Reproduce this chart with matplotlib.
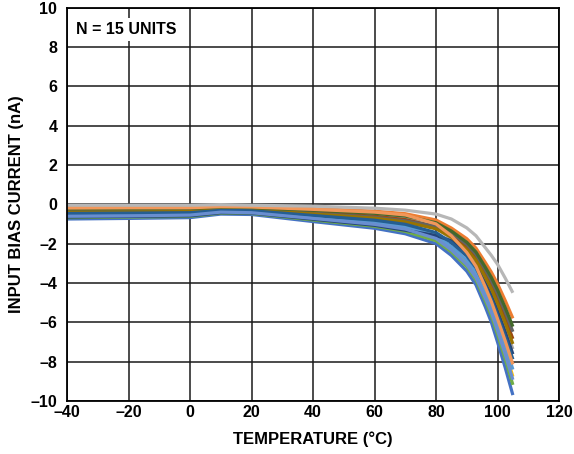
import matplotlib
matplotlib.use("Agg")
import matplotlib.pyplot as plt

plt.rcParams['font.family'] = ['Liberation Sans', 'DejaVu Sans']

# temperatures (°C)
temp = [-40, -20, 0, 10, 20, 40, 60, 70, 80, 85, 90, 93, 96, 98, 100, 102.5, 105]

# input bias current (nA), one list per unit, in Excel series order
u01 = [-0.75, -0.72, -0.68, -0.50, -0.52, -0.88, -1.22, -1.50, -2.00, -2.60, -3.40, -4.10, -5.20, -6.00, -7.00, -8.30, -9.70]
u02 = [-0.16, -0.15, -0.14, -0.09, -0.12, -0.22, -0.35, -0.48, -0.80, -1.21, -1.75, -2.23, -2.95, -3.45, -4.04, -4.89, -5.80]
u03 = [-0.30, -0.28, -0.27, -0.19, -0.21, -0.37, -0.56, -0.72, -1.18, -1.77, -2.41, -2.98, -3.85, -4.47, -5.22, -6.25, -7.36]
u04 = [-0.44, -0.42, -0.40, -0.28, -0.31, -0.53, -0.76, -0.96, -1.53, -2.27, -3.00, -3.65, -4.66, -5.39, -6.29, -7.48, -8.76]
u05 = [-0.54, -0.52, -0.49, -0.36, -0.38, -0.65, -0.91, -1.14, -1.59, -2.14, -2.85, -3.48, -4.45, -5.15, -6.01, -7.16, -8.40]
u06 = [-0.68, -0.65, -0.62, -0.45, -0.47, -0.80, -1.12, -1.38, -1.85, -2.42, -3.18, -3.85, -4.90, -5.66, -6.61, -7.85, -9.18]
u07 = [-0.65, -0.62, -0.59, -0.43, -0.45, -0.76, -1.07, -1.32, -1.59, -1.86, -2.52, -3.10, -4.00, -4.64, -5.42, -6.48, -7.62]
u08 = [-0.33, -0.32, -0.30, -0.21, -0.24, -0.41, -0.61, -0.78, -1.14, -1.58, -2.19, -2.73, -3.55, -4.13, -4.83, -5.80, -6.84]
u09 = [-0.37, -0.35, -0.33, -0.24, -0.26, -0.45, -0.66, -0.84, -1.12, -1.45, -2.04, -2.55, -3.34, -3.89, -4.55, -5.48, -6.48]
u10 = [-0.40, -0.39, -0.37, -0.26, -0.29, -0.49, -0.71, -0.90, -1.25, -1.68, -2.30, -2.85, -3.70, -4.30, -5.03, -6.03, -7.10]
u11 = [-0.47, -0.45, -0.43, -0.31, -0.33, -0.57, -0.81, -1.02, -1.44, -1.95, -2.63, -3.23, -4.15, -4.81, -5.62, -6.71, -7.88]
u12 = [-0.23, -0.22, -0.21, -0.14, -0.17, -0.30, -0.46, -0.60, -0.94, -1.36, -1.93, -2.43, -3.19, -3.72, -4.35, -5.25, -6.22]
u13 = [-0.61, -0.59, -0.55, -0.40, -0.43, -0.72, -1.02, -1.26, -1.74, -2.32, -3.07, -3.73, -4.75, -5.49, -6.41, -7.62, -8.92]
u14 = [-0.19, -0.18, -0.18, -0.12, -0.14, -0.26, -0.40, -0.54, -1.00, -1.60, -2.45, -3.15, -4.20, -4.95, -5.82, -6.94, -8.14]
u15 = [-0.05, -0.05, -0.05, -0.02, -0.05, -0.10, -0.20, -0.30, -0.50, -0.75, -1.20, -1.60, -2.20, -2.60, -3.05, -3.75, -4.50]

units = [u01, u02, u03, u04, u05, u06, u07, u08, u09, u10, u11, u12, u13, u14, u15]
colors = ['#4472C4', '#ED7D31', '#A5A5A5', '#FFC000', '#5B9BD5', '#70AD47', '#264478', '#9E480E',
          '#636363', '#997300', '#255E91', '#43682B', '#698ED0', '#F1975A', '#B7B7B7']

x_ticks = [-40, -20, 0, 20, 40, 60, 80, 100, 120]
y_ticks = [-10, -8, -6, -4, -2, 0, 2, 4, 6, 8, 10]

fig = plt.figure(figsize=(5.74, 4.54), dpi=100)
ax = fig.add_axes([67/574, 1-401/454, (559-67)/574, (401-7.5)/454])

for vals, c in zip(units, colors):
    ax.plot(temp, vals, color=c, lw=2.3, solid_capstyle='butt', solid_joinstyle='round')

ax.set_xlim(-40, 120)
ax.set_ylim(-10, 10)
ax.set_xticks(x_ticks)
ax.set_yticks(y_ticks)
ax.set_xticklabels([str(t).replace('-', '–') for t in x_ticks])
ax.set_yticklabels([str(t).replace('-', '–') for t in y_ticks])
ax.tick_params(length=0, labelsize=11.5, pad=3)
ax.tick_params(axis='y', pad=7)
for lab in ax.get_xticklabels() + ax.get_yticklabels():
    lab.set_fontweight('bold')

ax.grid(True, color='#1a1a1a', lw=1.1)
ax.set_axisbelow(True)
for sp in ax.spines.values():
    sp.set_color('black')
    sp.set_linewidth(1.3)

ax.set_xlabel('TEMPERATURE (°C)', fontsize=12, fontweight='bold', labelpad=8)
ax.set_ylabel('INPUT BIAS CURRENT (nA)', fontsize=12, fontweight='bold', labelpad=5)

ax.text(0.018, 0.944, 'N = 15 UNITS', transform=ax.transAxes, fontsize=11.5, fontweight='bold',
        va='center', ha='left', zorder=5,
        bbox=dict(facecolor='white', edgecolor='none', pad=3))

fig.savefig('out.png', dpi=100)
